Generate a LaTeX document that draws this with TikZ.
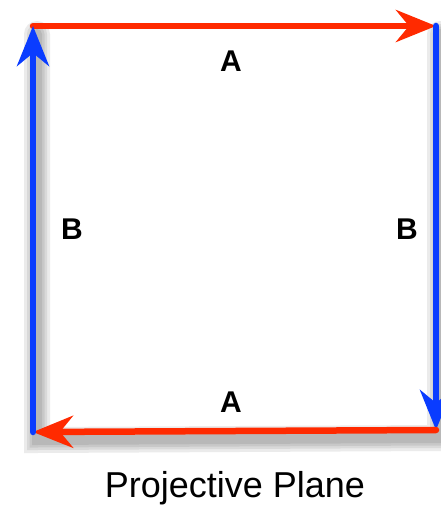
\documentclass[tikz,border=0pt]{standalone}
\usepackage{fontspec}
\setmainfont{Liberation Sans}
\usetikzlibrary{arrows.meta}

\definecolor{edgered}{RGB}{255,42,0}
\definecolor{edgeblue}{RGB}{10,60,255}

\begin{document}
\begin{tikzpicture}[x=1pt, y=-1pt,
  edge/.style={line width=6.5pt, line cap=round, -{Stealth[length=40pt, width=32pt, inset=13pt]}},
  redge/.style={edge, edgered},
  bedge/.style={edge, edgeblue},
  shade/.style={line width=#1, line cap=round, black, opacity=0.08},
  lbl/.style={font=\fontsize{30}{30}\selectfont\bfseries, inner sep=0pt},
  title/.style={font=\fontsize{36}{36}\selectfont, inner sep=0pt}
]
\useasboundingbox (0,0) rectangle (440,513);
% --- corners ---
\coordinate (tl) at (33,26);
\coordinate (tr) at (436,26);
\coordinate (br) at (436,430);
\coordinate (bl) at (33,432);
% --- soft shadow ---
\foreach \w in {26,20,15,10} {
  \draw[shade=\w pt] ([shift={(4,8)}]tl) -- ([shift={(4,8)}]bl) -- ([shift={(4,8)}]br) -- ([shift={(4,8)}]tr);
}
% --- edges ---
\draw[redge]  (tl) -- (tr);
\draw[bedge]  (tr) -- (br);
\draw[redge]  (br) -- (bl);
\draw[bedge]  (bl) -- (tl);
% --- labels ---
\node[lbl] (atop) at (231,61)  {A};
\node[lbl] (abot) at (231,402) {A};
\node[lbl] (bleft)  at (72,229)  {B};
\node[lbl] (bright) at (407,229) {B};
\node[title] (name) at (235,488) {Projective Plane};
\end{tikzpicture}
\end{document}
